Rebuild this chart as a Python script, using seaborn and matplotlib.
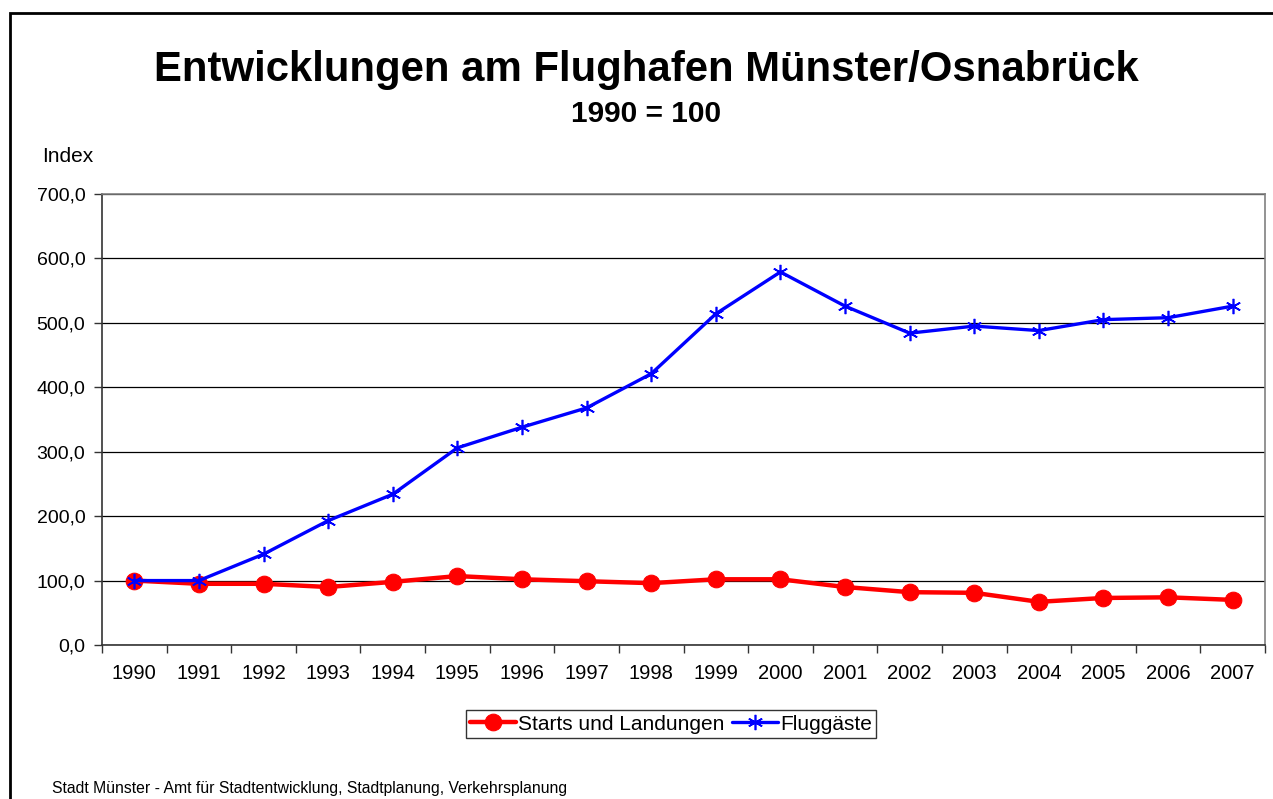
import matplotlib
matplotlib.use("Agg")
from matplotlib import pyplot as plt
from matplotlib import ticker
from matplotlib.patches import Rectangle
import seaborn as sns
import pandas as pd

# =============================================================================
# data (index, 1990 = 100)
# =============================================================================
years = ["1990", "1991", "1992", "1993", "1994", "1995", "1996", "1997", "1998",
         "1999", "2000", "2001", "2002", "2003", "2004", "2005", "2006", "2007"]
starts = [100, 95, 95, 90, 98, 107, 102, 99, 96, 102, 102, 90, 82, 81, 67, 73, 74, 70]
fluggaeste = [100, 100, 141, 193, 234, 306, 338, 368, 421, 514, 579, 526, 484, 495,
              488, 505, 508, 526]
y_ticks = [0, 100, 200, 300, 400, 500, 600, 700]

df = pd.DataFrame({"Jahr": years * 2,
                   "Wert": starts + fluggaeste,
                   "Reihe": ["Starts und Landungen"] * len(years) + ["Fluggäste"] * len(years)})

sns.set_style("white")
plt.rcParams['font.family'] = ['Liberation Sans', 'DejaVu Sans']
plt.rcParams['text.color'] = 'black'
plt.rcParams['xtick.color'] = 'black'
plt.rcParams['ytick.color'] = 'black'
plt.rcParams['axes.labelcolor'] = 'black'

fig = plt.figure(figsize=(12.73, 7.99), dpi=100)
ax = fig.add_axes([102 / 1273, 1 - 645 / 799, (1265 - 102) / 1273, (645 - 194) / 799])

sns.lineplot(data=df[df.Reihe == "Starts und Landungen"], x="Jahr", y="Wert",
             color="#ff0000", marker="o", markersize=12, markeredgecolor="#ff0000",
             linewidth=3.2, sort=False, label="Starts und Landungen", ax=ax)
sns.lineplot(data=df[df.Reihe == "Fluggäste"], x="Jahr", y="Wert",
             color="#0000ff", marker=(6, 2, 0), markersize=11, markeredgecolor="#0000ff",
             markeredgewidth=1.2, linewidth=2.4, sort=False, label="Fluggäste", ax=ax)

# axes
ax.set_xlim(-0.5, len(years) - 0.5)
ax.set_ylim(0, 700)
ax.set_yticks(y_ticks)
ax.yaxis.set_major_formatter(ticker.FuncFormatter(lambda v, p: "{:.1f}".format(v).replace(".", ",")))
ax.set_xticks(range(len(years)))
ax.set_xticklabels(years)
ax.xaxis.set_minor_locator(ticker.FixedLocator([i + 0.5 for i in range(-1, len(years))]))
ax.tick_params(axis="x", which="major", length=0, pad=14, labelsize=14.5, labelcolor="black")
ax.tick_params(axis="x", which="minor", length=6, width=1, color="#333333", direction="out", bottom=True)
ax.tick_params(axis="y", which="major", length=6, width=1, color="#333333", direction="out",
               left=True, pad=6, labelsize=14, labelcolor="black")
ax.set_xlabel("")
ax.set_ylabel("")
ax.grid(axis="y", color="#000000", linewidth=0.9)
ax.set_axisbelow(True)
for s in ["left", "bottom"]:
    ax.spines[s].set_color("#333333")
    ax.spines[s].set_linewidth(1.2)
for s in ["top", "right"]:
    ax.spines[s].set_color("#808080")
    ax.spines[s].set_linewidth(1.2)
    ax.spines[s].set_visible(True)

leg = ax.legend(loc="center", bbox_to_anchor=(671 / 1273, 1 - 724 / 799), bbox_transform=fig.transFigure,
                ncol=2, frameon=True, fancybox=False, fontsize=15, handlelength=2.2,
                handletextpad=0.1, columnspacing=0.4, borderpad=0.2, borderaxespad=0)
leg.get_frame().set_edgecolor("#000000")
leg.get_frame().set_linewidth(1.0)
for t in leg.get_texts():
    t.set_color("black")

# texts
fig.text(646 / 1273, 1 - 70 / 799, "Entwicklungen am Flughafen Münster/Osnabrück",
         ha="center", va="center", fontsize=30.2, fontweight="bold", color="black")
fig.text(646 / 1273, 1 - 114 / 799, "1990 = 100", ha="center", va="center",
         fontsize=21.5, fontweight="bold", color="black")
fig.text(42 / 1273, 1 - 157 / 799, "Index", ha="left", va="center", fontsize=15, color="black")
fig.text(52 / 1273, 1 - 789 / 799, "Stadt Münster - Amt für Stadtentwicklung, Stadtplanung, Verkehrsplanung",
         ha="left", va="center", fontsize=11.3, color="black")

# chart border (cut off at the right and bottom)
fig.patches.append(Rectangle((10 / 1273, -0.1), 1.2, 1 - 13 / 799 + 0.1, transform=fig.transFigure,
                             fill=False, edgecolor="#000000", linewidth=2))

fig.savefig("out.png", dpi=100)
